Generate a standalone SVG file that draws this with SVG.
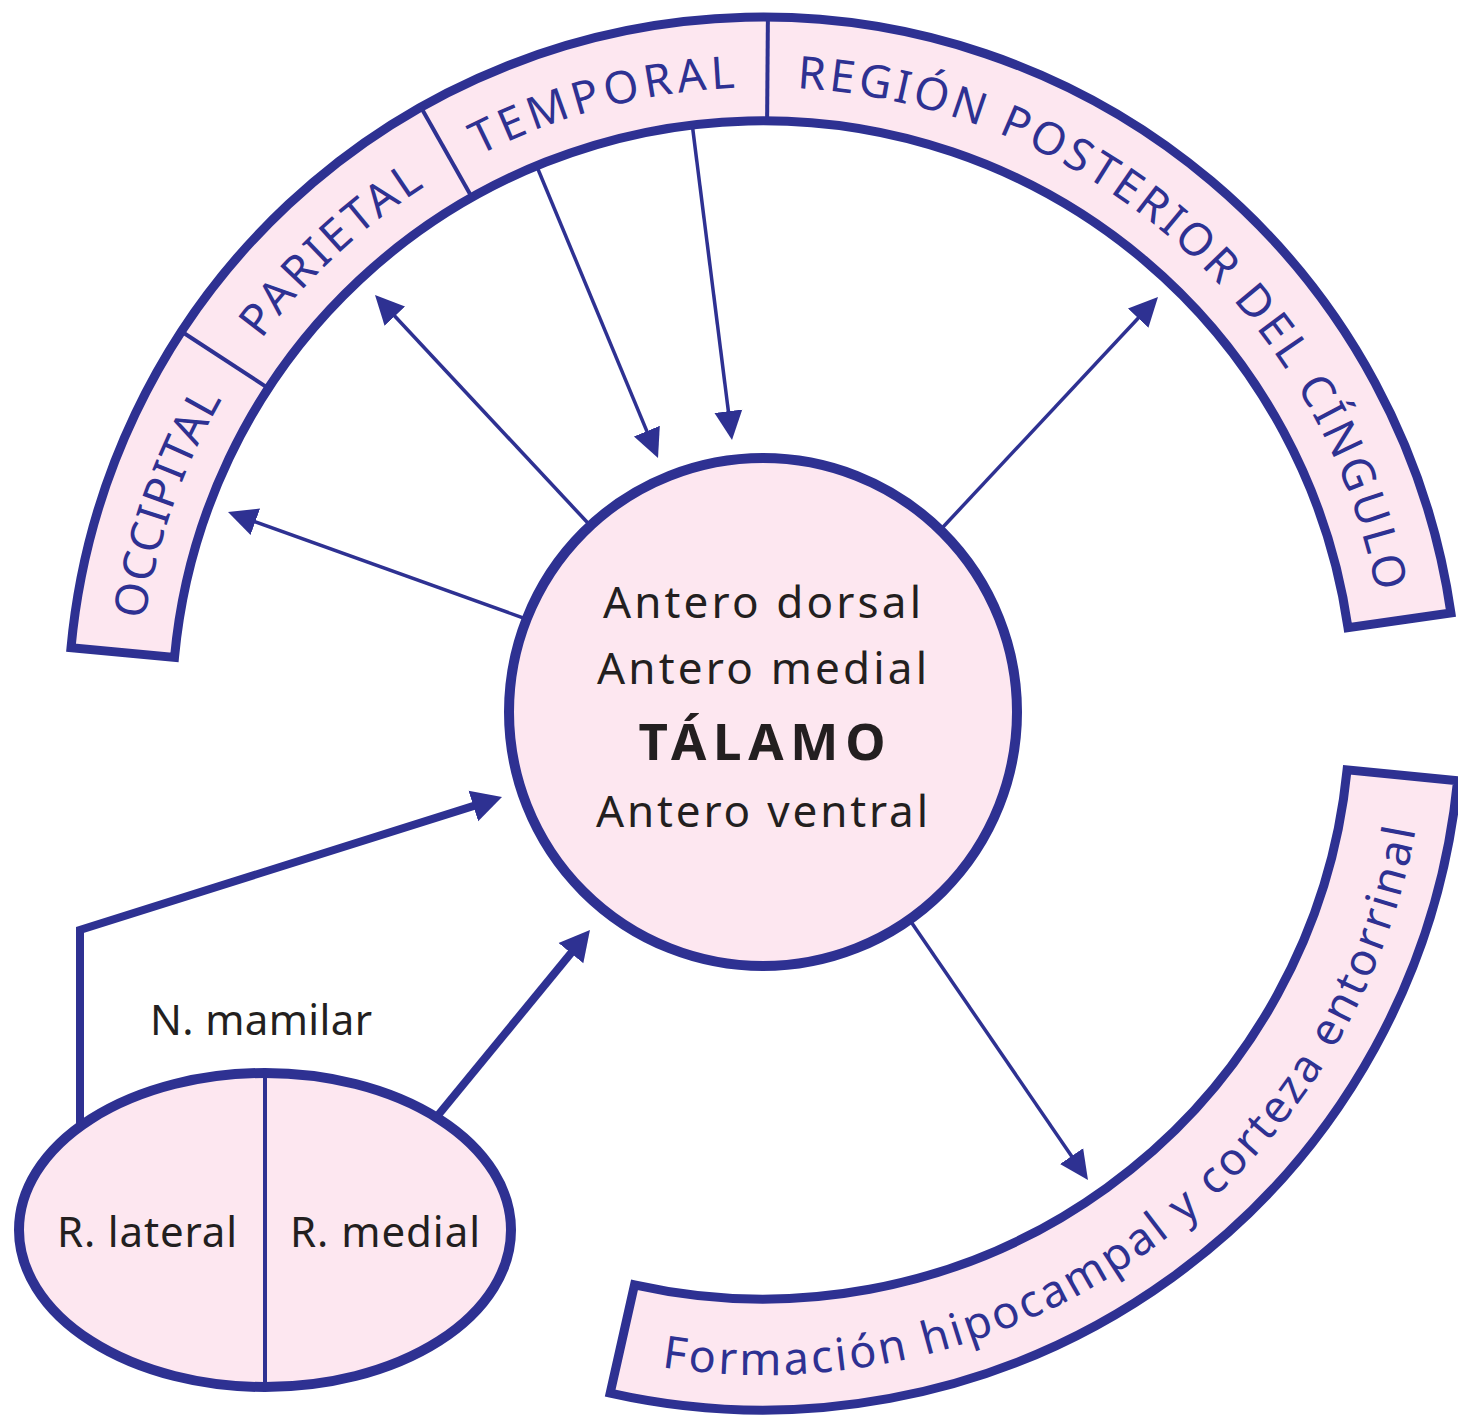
<svg xmlns="http://www.w3.org/2000/svg" width="1458" height="1415" viewBox="0 0 1458 1415">
<defs>
<style>
.band{fill:#FDE7F0;stroke:#2E3192;stroke-width:9;stroke-linejoin:miter}
.sep{stroke:#2E3192;stroke-width:4;fill:none}
.node{fill:#FDE7F0;stroke:#2E3192;stroke-width:10}
.lbl{font-family:"Noto Sans","Liberation Sans",sans-serif;fill:#2E3192;font-size:45px}
.txt{font-family:"Noto Sans","Liberation Sans",sans-serif;fill:#231F20;font-size:44px;text-anchor:middle}
.small{font-size:42px}
.bold{font-weight:bold;font-size:51px}
.thin{stroke:#2E3192;stroke-width:3.5;fill:none;marker-end:url(#ah)}
.thick{stroke:#2E3192;stroke-width:8;fill:none;marker-end:url(#ahb);stroke-linejoin:miter}
</style>
<marker id="ah" markerUnits="userSpaceOnUse" markerWidth="40" markerHeight="40" viewBox="0 -20 40 40" refX="5" refY="0" orient="auto"><path d="M0,-14 L29,0 L0,14 Z" fill="#2E3192"/></marker>
<marker id="ahb" markerUnits="userSpaceOnUse" markerWidth="40" markerHeight="40" viewBox="0 -20 40 40" refX="8" refY="0" orient="auto"><path d="M0,-16 L30,0 L0,16 Z" fill="#2E3192"/></marker>
<path id="arcTop" d="M140.7,654.3 A625,625 0 0 1 1381.6,622.9" fill="none"/>
<path id="arcBot" d="M617.8,1358.9 A663,663 0 0 0 1422.8,777.3" fill="none"/>
</defs>
<rect width="1458" height="1415" fill="#FFFFFF"/>

<g id="connectors">
<path class="thin" d="M540,624 L250.6,520.1"/>
<path class="thin" d="M600,536 L391.4,312.5"/>
<path class="thin" d="M530,150 L648.8,435.8"/>
<path class="thin" d="M691,115 L729.0,416.2"/>
<path class="thin" d="M930,541 L1141.6,314.5"/>
<path class="thin" d="M905,913 L1074.4,1160.2"/>
<path class="thick" d="M80,1140 L80,930 L481.0,803.6"/>
<path class="thick" d="M430,1125 L576.0,947.0"/>
</g>

<g id="cortex-band">
<path class="band" d="M71.0,647.8 A695,695 0 0 1 1450.9,612.9 L1348.0,627.7 A591,591 0 0 0 174.5,657.4 Z"/>
<line class="sep" x1="268.5" y1="388.4" x2="181.5" y2="331.5"/>
<line class="sep" x1="472.0" y1="197.6" x2="420.8" y2="107.1"/>
<line class="sep" x1="767.1" y1="121.0" x2="767.9" y2="17.0"/>
</g>
<g id="occipital"><text class="lbl"><textPath href="#arcTop" startOffset="152.2" text-anchor="middle" textLength="235">OCCIPITAL</textPath></text></g>
<g id="parietal"><text class="lbl"><textPath href="#arcTop" startOffset="453.8" text-anchor="middle" textLength="225">PARIETAL</textPath></text></g>
<g id="temporal"><text class="lbl"><textPath href="#arcTop" startOffset="762.5" text-anchor="middle" textLength="267">TEMPORAL</textPath></text></g>
<g id="cingulo"><text class="lbl"><textPath href="#arcTop" startOffset="1371.1" text-anchor="middle" textLength="827">REGIÓN POSTERIOR DEL CÍNGULO</textPath></text></g>

<g id="hipocampo">
<path class="band" d="M1457.6,780.7 A698,698 0 0 1 610.2,1393.1 L634.5,1284.8 A587,587 0 0 0 1347.1,769.8 Z"/>
<text class="lbl"><textPath href="#arcBot" startOffset="557.1" text-anchor="middle" textLength="1025">Formación hipocampal y corteza entorrinal</textPath></text>
</g>

<g id="talamo">
<circle class="node" cx="763" cy="712" r="254"/>
<text class="txt" x="762" y="618" textLength="318">Antero dorsal</text>
<text class="txt" x="762" y="684" textLength="330">Antero medial</text>
<text class="txt bold" x="762" y="760" textLength="247">TÁLAMO</text>
<text class="txt" x="762" y="827" textLength="332">Antero ventral</text>
</g>

<g id="mamilar">
<text class="txt small" x="261" y="1035" textLength="222">N. mamilar</text>
<ellipse class="node" cx="265" cy="1230" rx="246" ry="157" stroke-width="8"/>
<line class="sep" x1="265" y1="1072" x2="265" y2="1388"/>
<text class="txt small" x="147" y="1247" textLength="180">R. lateral</text>
<text class="txt small" x="385" y="1247" textLength="190">R. medial</text>
</g>
</svg>
